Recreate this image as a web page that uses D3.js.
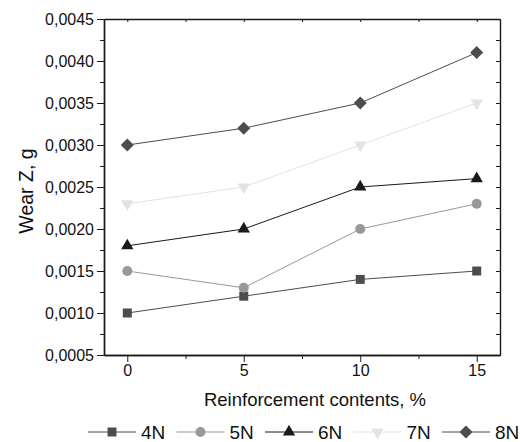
<!DOCTYPE html>
<html>
<head>
<meta charset="utf-8">
<script src="https://cdn.jsdelivr.net/npm/d3@7"></script>
<style>
body { margin: 0; background: #fff; }
text { font-family: "Liberation Sans", Arial, sans-serif; fill: #111; }
</style>
</head>
<body>
<svg id="chart" width="520" height="442"></svg>
<script>
var contents = [0, 5, 10, 15];
var seriesNames = ["4N", "5N", "6N", "7N", "8N"];
var wear4N = [0.0010, 0.0012, 0.0014, 0.0015];
var wear5N = [0.0015, 0.0013, 0.0020, 0.0023];
var wear6N = [0.0018, 0.0020, 0.0025, 0.0026];
var wear7N = [0.0023, 0.0025, 0.0030, 0.0035];
var wear8N = [0.0030, 0.0032, 0.0035, 0.0041];
var yTicks = [0.0005, 0.0010, 0.0015, 0.0020, 0.0025, 0.0030, 0.0035, 0.0040, 0.0045];

var series = [
  {name: seriesNames[0], values: wear4N, color: "#4d4d4d", line: "#4d4d4d", symbol: d3.symbolSquare, size: 81, rot: 0},
  {name: seriesNames[1], values: wear5N, color: "#999999", line: "#999999", symbol: d3.symbolCircle, size: 80, rot: 0},
  {name: seriesNames[2], values: wear6N, color: "#1a1a1a", line: "#1a1a1a", symbol: d3.symbolTriangle, size: 66, rot: 0},
  {name: seriesNames[3], values: wear7N, color: "#e3e3e3", line: "#e3e3e3", symbol: d3.symbolTriangle, size: 66, rot: 180},
  {name: seriesNames[4], values: wear8N, color: "#4d4d4d", line: "#4d4d4d", symbol: d3.symbolSquare, size: 85, rot: 45}
];

var svg = d3.select("#chart"),
    margin = {top: 19, right: 20, bottom: 87, left: 104},
    width = 520 - margin.left - margin.right,
    height = 442 - margin.top - margin.bottom;

var x = d3.scaleLinear().domain([-1, 16]).range([0, width]),
    y = d3.scaleLinear().domain([0.0005, 0.0045]).range([height, 0]);

var fmt = function(d) { return d3.format(".4f")(d).replace(".", ","); };

var g = svg.append("g").attr("transform", "translate(" + margin.left + "," + margin.top + ")");

// axes
var xAxis = d3.axisBottom(x).tickValues(contents).tickSize(7).tickSizeOuter(0);
var xMinor = d3.axisBottom(x).tickValues([2.5, 7.5, 12.5]).tickSize(4).tickFormat("").tickSizeOuter(0);
var yAxis = d3.axisLeft(y).tickValues(yTicks).tickFormat(fmt).tickSize(7).tickSizeOuter(0);
var yMinorVals = d3.range(0, 8).map(function(i) { return 0.00075 + i * 0.0005; });
var yMinor = d3.axisLeft(y).tickValues(yMinorVals).tickSize(4).tickFormat("").tickSizeOuter(0);

g.append("g").attr("class", "axis").attr("transform", "translate(0," + height + ")").call(xAxis);
g.append("g").attr("class", "axis").attr("transform", "translate(0," + height + ")").call(xMinor);
g.append("g").attr("class", "axis").call(yAxis);
g.append("g").attr("class", "axis").call(yMinor);
g.append("g").attr("class", "axis").attr("transform", "translate(" + width + ",0)")
  .call(d3.axisLeft(y).tickValues(yTicks.concat(yMinorVals)).tickSize(4).tickFormat("").tickSizeOuter(0));
g.append("g").attr("class", "axis")
  .call(d3.axisBottom(x).tickValues(contents.concat([2.5, 7.5, 12.5])).tickSize(3).tickFormat("").tickSizeOuter(0));

g.selectAll(".axis path, .axis line").attr("stroke", "#1a1a1a");
g.selectAll(".axis path").attr("stroke-width", 1.4);
g.selectAll(".axis text").attr("font-size", 16).attr("fill", "#111")
  .style("font-family", "'Liberation Sans', Arial, sans-serif");

// axis titles
g.append("text")
  .attr("x", x(7.5) + 13).attr("y", height + 51)
  .attr("text-anchor", "middle").attr("font-size", 18.5)
  .text("Reinforcement contents, %");
g.append("text")
  .attr("transform", "translate(-71," + (height / 2 + 4) + ") rotate(-90)")
  .attr("text-anchor", "middle").attr("font-size", 19.5)
  .text("Wear Z, g");

// lines and markers
var line = d3.line()
  .x(function(d, i) { return x(contents[i]); })
  .y(function(d) { return y(d); });

series.forEach(function(s) {
  g.append("path")
    .datum(s.values)
    .attr("fill", "none")
    .attr("stroke", s.line)
    .attr("stroke-width", 1)
    .attr("d", line);
});
series.forEach(function(s) {
  var sym = d3.symbol().type(s.symbol).size(s.size);
  g.selectAll(null)
    .data(s.values)
    .enter().append("path")
    .attr("d", sym)
    .attr("fill", s.color)
    .attr("transform", function(d, i) {
      return "translate(" + x(contents[i]) + "," + y(d) + ") rotate(" + s.rot + ")";
    });
});

// legend
var legend = svg.append("g").attr("transform", "translate(88,432)");
series.forEach(function(s, i) {
  var lg = legend.append("g").attr("transform", "translate(" + (i * 88.5) + ",0)");
  lg.append("line").attr("x1", 0).attr("x2", 48).attr("y1", 0).attr("y2", 0)
    .attr("stroke", s.line).attr("stroke-width", 1);
  lg.append("path").attr("d", d3.symbol().type(s.symbol).size(s.size)())
    .attr("fill", s.color)
    .attr("transform", "translate(24,0) rotate(" + s.rot + ")");
  lg.append("text").attr("x", 53).attr("y", 7).attr("font-size", 19).text(s.name);
});
</script>
</body>
</html>
